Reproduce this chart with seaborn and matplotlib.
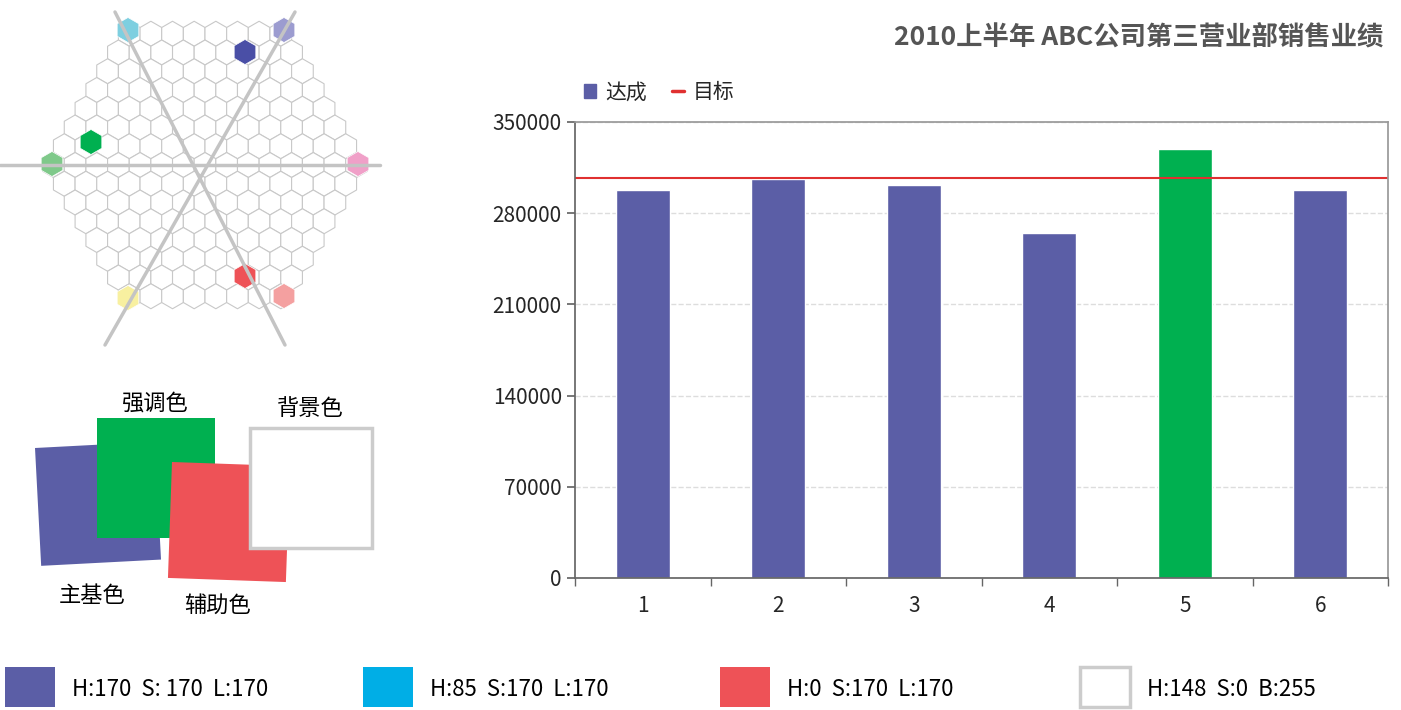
import matplotlib
matplotlib.use("Agg")
import matplotlib.pyplot as plt
import matplotlib.patches as mp
import numpy as np
import pandas as pd
import seaborn as sns

months = ["1", "2", "3", "4", "5", "6"]
achieved = [298000, 306000, 302000, 265000, 329000, 298000]
target = 307000
yticks = [0, 70000, 140000, 210000, 280000, 350000]
title = "2010上半年 ABC公司第三营业部销售业绩"
swatch_labels = ["H:170  S: 170  L:170", "H:85  S:170  L:170", "H:0  S:170  L:170", "H:148  S:0  B:255"]
swatch_colors = ["#5b5ea6", "#00aee6", "#ee5257", "#ffffff"]

sns.set_theme(style="white")
plt.rcParams['font.family'] = ['Noto Sans CJK SC', 'DejaVu Sans']

BLUE, GREEN, RED = "#5b5ea6", "#00b050", "#ee5257"
fig = plt.figure(figsize=(14.01, 7.10), dpi=100)

# decorative canvas in pixel coords
deco = fig.add_axes([0, 0, 1, 1])
deco.set_xlim(0, 1401); deco.set_ylim(710, 0); deco.axis("off")
cx, cy, r = 205, 165, 12.5
dx, dy = np.sqrt(3) * r, 1.5 * r
for row in range(-7, 8):
    n = 15 - abs(row)
    for i in range(n):
        x = cx + (i - (n - 1) / 2) * dx
        y = cy + row * dy
        deco.add_patch(mp.RegularPolygon((x, y), 6, radius=r, orientation=0, fc="white", ec="#c8c8c8", lw=0.8))
for (x1, y1, x2, y2) in [(0, 165, 380, 165), (115, 12, 285, 345), (295, 12, 105, 345)]:
    deco.plot([x1, x2], [y1, y2], color="#c4c4c4", lw=2.5)
for (x, y, c) in [(128, 30, "#7ecfe0"), (284, 30, "#9c9cd0"), (245, 52, "#4a4fa6"), (91, 142, "#00b050"),
                  (52, 164, "#7fc98a"), (358, 164, "#f0a0c8"), (245, 276, "#ee5257"), (284, 296, "#f4a0a0"),
                  (128, 298, "#f8f0a0")]:
    deco.add_patch(mp.RegularPolygon((x, y), 6, radius=r, orientation=0, fc=c, ec="white", lw=0.5))

deco.add_patch(mp.Rectangle((35, 448), 120, 118, angle=-3, fc=BLUE, ec="none"))
deco.add_patch(mp.Rectangle((97, 418), 118, 120, fc=GREEN, ec="none"))
deco.add_patch(mp.Rectangle((172, 462), 118, 116, angle=2, fc=RED, ec="none"))
deco.add_patch(mp.Rectangle((250, 428), 122, 120, fc="white", ec="#cccccc", lw=2.5))
for (x, y, t) in [(155, 403, "强调色"), (310, 408, "背景色"), (92, 595, "主基色"), (218, 605, "辅助色")]:
    deco.text(x, y, t, ha="center", va="center", fontsize=16, color="black")

for x0, lab, col in zip([5, 363, 720, 1080], swatch_labels, swatch_colors):
    deco.add_patch(mp.Rectangle((x0, 667), 50, 40, fc=col, ec="#cccccc" if col == "#ffffff" else "none", lw=2.5))
    deco.text(x0 + 67, 690, lab, ha="left", va="center", fontsize=16, color="black")

deco.text(1383, 38, title, ha="right", va="center", fontsize=19, fontweight="bold", color="#555555")

# main chart
ax = fig.add_axes([575 / 1401, 1 - 578 / 710, 813 / 1401, 456 / 710])
df = pd.DataFrame({"m": months, "v": achieved})
pal = [GREEN if v == max(achieved) else BLUE for v in achieved]
sns.barplot(data=df, x="m", y="v", hue="m", palette=pal, legend=False, width=0.4, saturation=1, ax=ax)
ax.axhline(target, color="#e03030", lw=1.5)
ax.set_ylim(0, 350000)
ax.set_xlim(-0.5, 5.5)
ax.set_yticks(yticks)
ax.set_yticklabels([str(v) for v in yticks], fontsize=15)
ax.tick_params(axis="x", labelsize=15, pad=12)
ax.set_xlabel(""); ax.set_ylabel("")
ax.yaxis.grid(True, ls="--", color="#dddddd")
for s in ["top", "right"]:
    ax.spines[s].set_color("#999999")
ax.spines["left"].set_color("#666666"); ax.spines["bottom"].set_color("#666666")
ax.tick_params(axis="y", left=True, length=6, color="#666666")
ax.tick_params(axis="x", bottom=True, length=6, color="#666666")
ax.set_xticks(np.arange(-0.5, 6, 1), minor=True)
ax.tick_params(axis="x", which="minor", bottom=True, length=6, color="#666666")
ax.tick_params(axis="x", which="major", length=0)

handles = [mp.Patch(color=BLUE, label="达成"), plt.Line2D([], [], color="#e03030", lw=2.5, label="目标")]
ax.legend(handles=handles, loc="lower left", bbox_to_anchor=(-0.012, 1.0), ncol=2, frameon=False,
          fontsize=15, handlelength=0.6, handletextpad=0.4, columnspacing=1.2)

fig.savefig("out.png", dpi=100)
